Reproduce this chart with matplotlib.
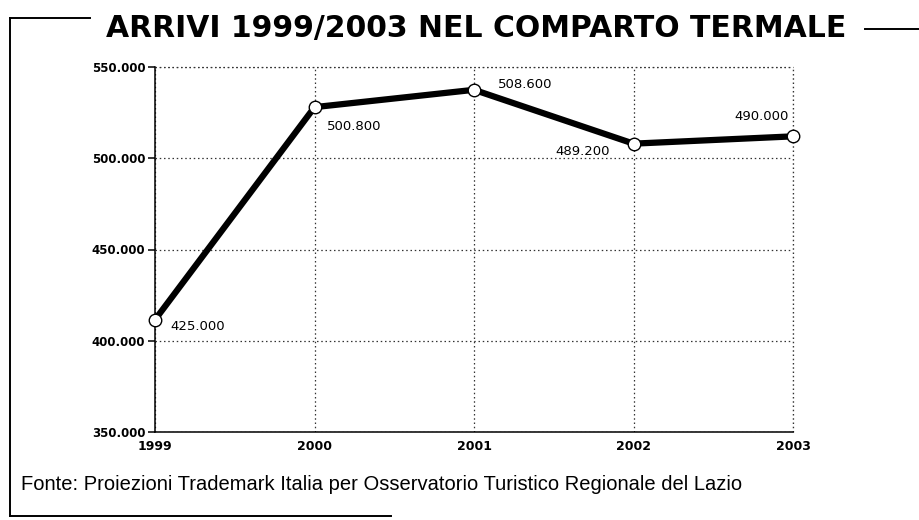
import matplotlib
matplotlib.use("Agg")
import matplotlib.pyplot as plt
from matplotlib.lines import Line2D

# Data (values read from the drawn positions; labels as printed on the chart)
years = [1999, 2000, 2001, 2002, 2003]
arrivals = [411.5, 528.0, 537.5, 508.0, 512.0]   # thousands, as plotted
point_labels = ["425.000", "500.800", "508.600", "489.200", "490.000"]
y_ticks = [350, 400, 450, 500, 550]
y_tick_labels = ["350.000", "400.000", "450.000", "500.000", "550.000"]
x_tick_labels = ["1999", "2000", "2001", "2002", "2003"]

title = "ARRIVI 1999/2003 NEL COMPARTO TERMALE"
source = "Fonte: Proiezioni Trademark Italia per Osservatorio Turistico Regionale del Lazio"

fig = plt.figure(figsize=(9.2, 5.2), dpi=100)
fig.patch.set_facecolor("white")

W, H = 920, 520
left, right, top, bottom = 155, 793, 67, 432
ax = fig.add_axes([left / W, 1 - bottom / H, (right - left) / W, (bottom - top) / H])

ax.set_xlim(1999, 2003)
ax.set_ylim(350, 550)

dot = (0, (1.2, 2.2))
ax.set_xticks(years)
ax.set_yticks(y_ticks)
ax.grid(True, linestyle=dot, color="#333333", linewidth=0.9)

for s in ["top", "right"]:
    ax.spines[s].set_visible(False)
ax.spines["left"].set_linewidth(1.1)
ax.spines["bottom"].set_linewidth(1.1)
ax.axhline(550, linestyle=dot, color="#333333", linewidth=0.9, clip_on=False)
ax.axvline(2003, linestyle=dot, color="#333333", linewidth=0.9, clip_on=False)

ax.set_yticklabels(y_tick_labels, fontsize=8.5, fontweight="bold", family="DejaVu Sans Condensed")
ax.set_xticklabels(x_tick_labels, fontsize=9, fontweight="bold", family="DejaVu Sans Condensed")
ax.tick_params(axis="y", length=5, width=1.1, pad=2)
ax.tick_params(axis="x", length=0, pad=6)

ax.plot(years, arrivals, color="black", linewidth=4.5, solid_capstyle="round",
        marker="o", markersize=9, markerfacecolor="white", markeredgecolor="black",
        markeredgewidth=1.0, clip_on=False, zorder=5)

offsets = [(11, -5, "left"), (9, -14, "left"), (17, 4, "left"), (-17, -6, "right"), (-3, 14, "right")]
for x, y, lab, (dx, dy, ha) in zip(years, arrivals, point_labels, offsets):
    ax.annotate(lab, (x, y), xytext=(dx, dy), textcoords="offset points",
                ha=ha, va="center", fontsize=9.5, family="DejaVu Sans Condensed", zorder=6)

fig.text(476 / W, 1 - 29 / H, title, ha="center", va="center",
         fontsize=21.5, fontweight="bold", family="DejaVu Sans")
fig.text(21 / W, 1 - 484 / H, source, ha="left", va="center",
         fontsize=14.5, family="Liberation Sans")

# frame lines
fig.add_artist(Line2D([10 / W, 10 / W], [1 - 18 / H, 1 - 516 / H], color="black", linewidth=1.4))
fig.add_artist(Line2D([10 / W, 90 / W], [1 - 18 / H, 1 - 18 / H], color="black", linewidth=1.4))
fig.add_artist(Line2D([10 / W, 391 / W], [1 - 516 / H, 1 - 516 / H], color="black", linewidth=1.4))
fig.add_artist(Line2D([865 / W, 920 / W], [1 - 29 / H, 1 - 29 / H], color="black", linewidth=1.4))

fig.savefig("out.png", dpi=100, facecolor="white")
